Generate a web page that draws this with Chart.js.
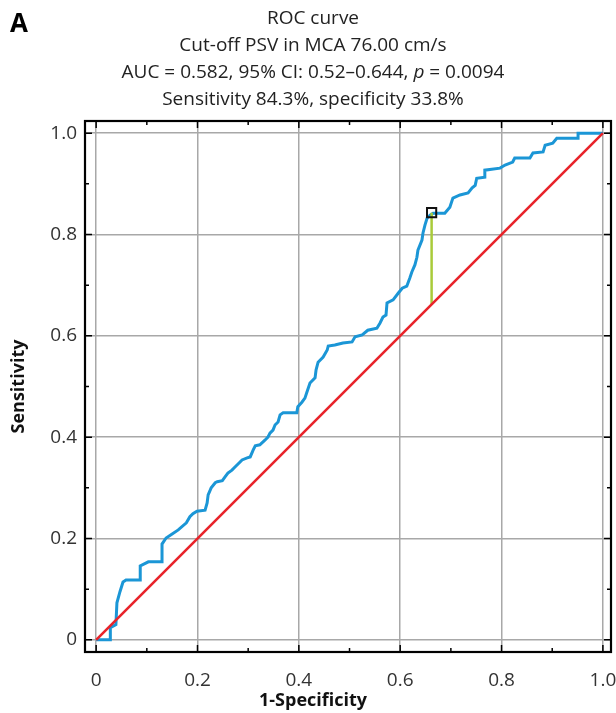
<!DOCTYPE html>
<html>
<head>
<meta charset="utf-8">
<script src="https://cdn.jsdelivr.net/npm/chart.js@4/dist/chart.umd.min.js"></script>
<style>
  body { margin: 0; background: #fff; }
  canvas { display: block; }
</style>
</head>
<body>
<canvas id="roc" width="616" height="713"></canvas>
<script>
	'use strict';

	// ROC curve: 1-specificity / sensitivity
	var rocFpr = [0, 0.028, 0.028, 0.039, 0.041, 0.047, 0.053, 0.059, 0.087, 0.087,
		0.103, 0.130, 0.130, 0.138, 0.150, 0.162, 0.178, 0.185, 0.191, 0.199,
		0.215, 0.219, 0.221, 0.227, 0.235, 0.239, 0.249, 0.254, 0.260, 0.268,
		0.274, 0.282, 0.288, 0.298, 0.304, 0.310, 0.314, 0.323, 0.333, 0.339,
		0.343, 0.349, 0.353, 0.359, 0.363, 0.369, 0.396, 0.398, 0.406, 0.412,
		0.416, 0.422, 0.432, 0.434, 0.438, 0.448, 0.456, 0.458, 0.471, 0.487,
		0.505, 0.511, 0.525, 0.536, 0.554, 0.560, 0.566, 0.572, 0.574, 0.586,
		0.596, 0.604, 0.613, 0.619, 0.623, 0.629, 0.633, 0.635, 0.643, 0.645,
		0.649, 0.653, 0.659, 0.665, 0.688, 0.698, 0.704, 0.718, 0.734, 0.742,
		0.748, 0.751, 0.767, 0.767, 0.797, 0.807, 0.822, 0.826, 0.856, 0.862,
		0.882, 0.886, 0.901, 0.909, 0.951, 0.951, 1];
	var rocTpr = [0, 0, 0.024, 0.030, 0.073, 0.095, 0.114, 0.118, 0.118, 0.146,
		0.154, 0.154, 0.189, 0.201, 0.209, 0.217, 0.231, 0.243, 0.249, 0.254,
		0.256, 0.270, 0.286, 0.300, 0.310, 0.312, 0.314, 0.321, 0.329, 0.335,
		0.341, 0.349, 0.355, 0.359, 0.361, 0.375, 0.383, 0.385, 0.394, 0.400,
		0.408, 0.414, 0.424, 0.430, 0.444, 0.448, 0.448, 0.460, 0.469, 0.477,
		0.489, 0.507, 0.517, 0.533, 0.548, 0.558, 0.572, 0.580, 0.582, 0.586,
		0.588, 0.598, 0.602, 0.611, 0.615, 0.625, 0.637, 0.641, 0.665, 0.671,
		0.684, 0.694, 0.698, 0.714, 0.726, 0.740, 0.755, 0.769, 0.789, 0.803,
		0.819, 0.832, 0.838, 0.842, 0.842, 0.854, 0.872, 0.878, 0.882, 0.892,
		0.897, 0.911, 0.913, 0.927, 0.931, 0.937, 0.943, 0.951, 0.951, 0.961,
		0.963, 0.976, 0.980, 0.990, 0.990, 1, 1];

	var diagonal = [0, 1];
	var cutoffFpr = 0.662;            // 1 - 0.338
	var cutoffSens = 0.843;
	var tickValues = [0, 0.2, 0.4, 0.6, 0.8, 1.0];
	var minorValues = [0.1, 0.3, 0.5, 0.7, 0.9];

	var titleLines = [
		'ROC curve',
		'Cut-off PSV in MCA 76.00 cm/s',
		['AUC = 0.582, 95% CI: 0.52\u20130.644, ', 'p', ' = 0.0094'],
		'Sensitivity 84.3%, specificity 33.8%'
	];

	var FONT = '"Open Sans", "Noto Sans", sans-serif';

	function toPoints(xs, ys) {
		return xs.map(function(x, i) { return { x: x, y: ys[i] }; });
	}

	var framePlugin = {
		id: 'frame',
		afterDraw: function(chart) {
			var ctx = chart.ctx, a = chart.chartArea;
			var xs = chart.scales.x, ys = chart.scales.y;
			ctx.save();
			ctx.strokeStyle = '#000';
			ctx.lineWidth = 1.5;
			// inward tick marks on all four sides
			function tick(v, len) {
				var px = xs.getPixelForValue(v), py = ys.getPixelForValue(v);
				ctx.beginPath();
				ctx.moveTo(px, a.bottom); ctx.lineTo(px, a.bottom - len);
				ctx.moveTo(px, a.top); ctx.lineTo(px, a.top + len);
				ctx.moveTo(a.left, py); ctx.lineTo(a.left + len, py);
				ctx.moveTo(a.right, py); ctx.lineTo(a.right - len, py);
				ctx.stroke();
			}
			tickValues.forEach(function(v) { tick(v, 7); });
			minorValues.forEach(function(v) { tick(v, 4); });
			ctx.lineWidth = 2.2;
			ctx.strokeRect(a.left, a.top, a.right - a.left, a.bottom - a.top);

			// titles
			ctx.fillStyle = '#222';
			ctx.textBaseline = 'middle';
			ctx.textAlign = 'left';
			var cx = 313;
			titleLines.forEach(function(line, i) {
				var y = 19 + i * 27;
				var parts = typeof line === 'string' ? [line] : line;
				var fonts = parts.map(function(p, j) {
					return (parts.length > 1 && j === 1 ? 'italic ' : '') + '19px ' + FONT;
				});
				var w = 0;
				parts.forEach(function(p, j) { ctx.font = fonts[j]; w += ctx.measureText(p).width; });
				var x = cx - w / 2;
				parts.forEach(function(p, j) {
					ctx.font = fonts[j];
					ctx.fillText(p, x, y);
					x += ctx.measureText(p).width;
				});
			});
			ctx.font = 'bold 26px ' + FONT;
			ctx.fillStyle = '#000';
			ctx.fillText('A', 10, 25);

			ctx.font = 'bold 18px ' + FONT;
			ctx.textAlign = 'center';
			ctx.fillStyle = '#111';
			ctx.fillText('1-Specificity', 313, 701);
			ctx.restore();
		}
	};

	function fmt(v) { return v === 0 ? '0' : v.toFixed(1); }

	function noPad(s) {
		s.paddingLeft = 0; s.paddingRight = 0; s.paddingTop = 0; s.paddingBottom = 0;
	}

	new Chart(document.getElementById('roc').getContext('2d'), {
		type: 'scatter',
		data: {
			datasets: [{
				label: 'cut-off',
				data: [{ x: cutoffFpr, y: cutoffSens }],
				pointStyle: 'rect',
				pointRadius: 6.5,
				borderColor: '#111',
				borderWidth: 2,
				backgroundColor: 'rgba(0,0,0,0)',
				order: 0
			}, {
				label: 'reference',
				data: toPoints(diagonal, diagonal),
				showLine: true,
				borderColor: '#e8232a',
				borderWidth: 2.6,
				pointRadius: 0,
				order: 1
			}, {
				label: 'Youden',
				data: [{ x: cutoffFpr, y: cutoffFpr }, { x: cutoffFpr, y: cutoffSens }],
				showLine: true,
				borderColor: '#a9cb3a',
				borderWidth: 2.5,
				pointRadius: 0,
				order: 2
			}, {
				label: 'ROC',
				data: toPoints(rocFpr, rocTpr),
				showLine: true,
				borderColor: '#1b96d6',
				borderWidth: 3,
				pointRadius: 0,
				tension: 0,
				order: 3
			}]
		},
		options: {
			responsive: false,
			animation: false,
			layout: { autoPadding: false, padding: { top: 121, right: 5, left: 0, bottom: 0 } },
			plugins: {
				legend: { display: false },
				tooltip: { enabled: false }
			},
			scales: {
				x: {
					type: 'linear',
					min: -0.022,
					max: 1.016,
					afterBuildTicks: function(s) { s.ticks = tickValues.map(function(v) { return { value: v }; }); },
					afterFit: function(s) { s.height = 61; noPad(s); },
					ticks: { padding: 17, color: '#333', font: { family: FONT, size: 19 }, callback: fmt, maxRotation: 0 },
					grid: { color: '#a8a8a8', lineWidth: 1.5, drawTicks: false },
					border: { display: false }
				},
				y: {
					type: 'linear',
					min: -0.024,
					max: 1.024,
					afterBuildTicks: function(s) { s.ticks = tickValues.map(function(v) { return { value: v }; }); },
					afterFit: function(s) { s.width = 85; noPad(s); },
					ticks: { padding: 8, color: '#333', font: { family: FONT, size: 19 }, callback: fmt },
					grid: { color: '#a8a8a8', lineWidth: 1.5, drawTicks: false },
					border: { display: false },
					title: {
						display: true,
						text: 'Sensitivity',
						color: '#111',
						font: { family: FONT, size: 18, weight: 'bold' },
						padding: { top: 8, bottom: 0 }
					}
				}
			}
		},
		plugins: [framePlugin]
	});
</script>
</body>
</html>
